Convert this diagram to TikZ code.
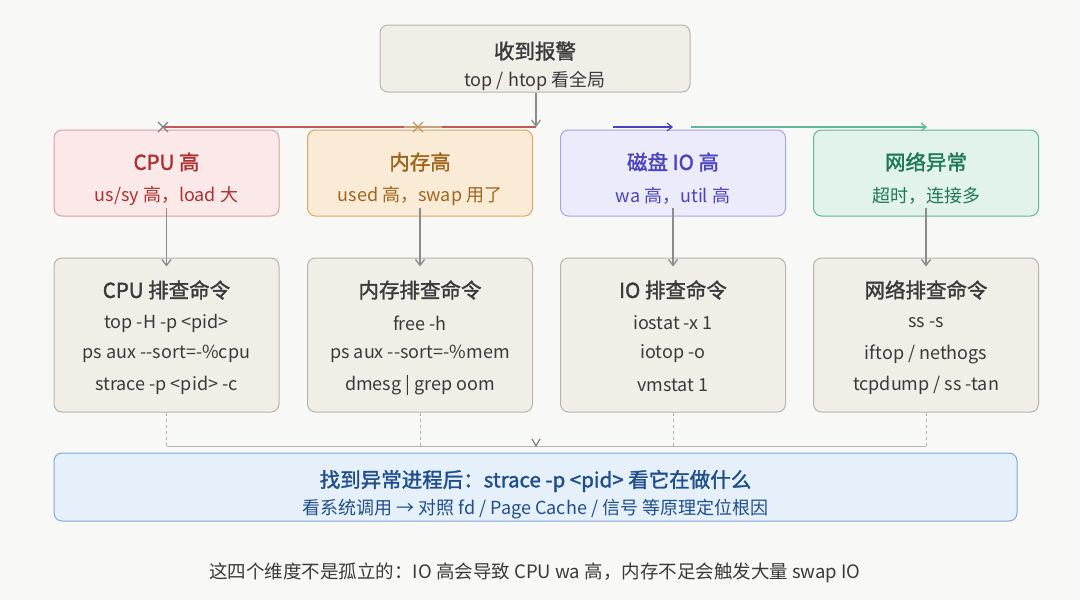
\documentclass[tikz,border=0pt]{standalone}
\usepackage{fontspec}
\setmainfont{Noto Sans CJK SC}[Ligatures=NoCommon]
\newfontfamily\semib{Noto Sans CJK SC}[Ligatures=NoCommon,FakeBold=1.6]
\usetikzlibrary{arrows.meta}
\definecolor{bg}{HTML}{F8F8F6}
\definecolor{gfill}{HTML}{F1EEE8}\definecolor{gline}{HTML}{B8B4AC}\definecolor{gtext}{HTML}{3A3A3A}
\definecolor{rfill}{HTML}{FBE9E9}\definecolor{rline}{HTML}{E0A0A0}\definecolor{rtext}{HTML}{B03030}
\definecolor{ofill}{HTML}{FAEBD7}\definecolor{oline}{HTML}{D9A860}\definecolor{otext}{HTML}{A0651A}
\definecolor{bfill}{HTML}{ECEBFC}\definecolor{bline}{HTML}{A9A4EE}\definecolor{btext}{HTML}{4A43C0}
\definecolor{nfill}{HTML}{E2F3EC}\definecolor{nline}{HTML}{5FB897}\definecolor{ntext}{HTML}{1E7A56}
\definecolor{kfill}{HTML}{E6F0FB}\definecolor{kline}{HTML}{7FA9DD}\definecolor{ktext}{HTML}{1F4E8C}
\tikzset{
 box/.style={draw, rounded corners=8pt, line width=1pt, align=center, inner sep=0pt},
 t/.style={font=\semib\fontsize{20.5}{24}\selectfont},
 s/.style={font=\fontsize{18}{22}\selectfont},
 arr/.style={-{Straight Barb[length=6pt,width=9pt]}, line width=1.3pt, draw=gray!90},
}
\begin{document}
\begin{tikzpicture}[x=1pt,y=-1pt]
\fill[bg] (0,0) rectangle (1080,600);
\useasboundingbox (0,0) rectangle (1080,600);
% top
\node[box, fill=gfill, draw=gline, minimum width=310pt, minimum height=67pt] (top) at (535,58.5) {};
\node[t, text=gtext] (topt) at (535,51) {收到报警};
\node[s, text=gtext] (tops) at (535,81) {top / htop 看全局};
% row1
\foreach \n/\x/\f/\l/\c/\a/\b in {cpu/166.5/rfill/rline/rtext/CPU 高/{us/sy 高，load 大},
 mem/420/ofill/oline/otext/内存高/{used 高，swap 用了},
 io/673/bfill/bline/btext/磁盘 IO 高/{wa 高，util 高},
 net/926/nfill/nline/ntext/网络异常/{超时，连接多}}{
 \node[box, fill=\f, draw=\l, minimum width=225pt, minimum height=86pt] (\n) at (\x,173) {};
 \node[t, text=\c] (\n t) at (\x,162) {\a};
 \node[s, text=\c] (\n s) at (\x,196) {\b};
}
% row2
\foreach \n/\x/\a/\p/\q/\r in {cpuc/166.5/CPU 排查命令/{top -H -p <pid>}/{ps aux -{}-sort=-\%cpu}/{strace -p <pid> -c},
 memc/420/内存排查命令/{free -h}/{ps aux -{}-sort=-\%mem}/{dmesg | grep oom},
 ioc/673/IO 排查命令/{iostat -x 1}/{iotop -o}/{vmstat 1},
 netc/926/网络排查命令/{ss -s}/{iftop / nethogs}/{tcpdump / ss -tan}}{
 \node[box, fill=gfill, draw=gline, minimum width=225pt, minimum height=154pt] (\n) at (\x,335) {};
 \node[t, text=gtext] (\n t) at (\x,290) {\a};
 \node[s, text=gtext] (\n 1) at (\x,323) {\p};
 \node[s, text=gtext] (\n 2) at (\x,354) {\q};
 \node[s, text=gtext] (\n 3) at (\x,385) {\r};
}
% bottom
\node[box, fill=kfill, draw=kline, minimum width=963pt, minimum height=68pt] (key) at (535.5,487) {};
\node[t, text=ktext] (keyt) at (535.5,481) {找到异常进程后：strace -p <pid> 看它在做什么};
\node[font=\fontsize{18}{20}\selectfont, text=ktext] (keys) at (535.5,509) {看系统调用 → 对照 fd / Page Cache / 信号 等原理定位根因};
\node[font=\fontsize{18.5}{20}\selectfont, text=gtext] (foot) at (535,573) {这四个维度不是孤立的：IO 高会导致 CPU wa 高，内存不足会触发大量 swap IO};
% top connectors
\coordinate (hub) at (536,127);
\coordinate (rc) at (163,127);
\coordinate (oc) at (418,127);
\coordinate (b0) at (613,127);\coordinate (b1) at (673,127);
\coordinate (g0) at (691,127);\coordinate (g1) at (927,127);
\draw[arr] (top.south -| hub) -- (hub);
\draw[line width=1.2pt, draw=rtext!80] (hub) -- (rc);
\draw[line width=1.2pt, draw=otext!60] (oc) ++(-14,0) -- ++(38,0);
\draw[line width=1.3pt, gray] (rc) ++(-5,-5) -- ++(10,10) (rc) ++(-5,5) -- ++(10,-10);
\draw[line width=1.3pt, oline!90!black] (oc) ++(-5,-5) -- ++(10,10) (oc) ++(-5,5) -- ++(10,-10);
\draw[-{Straight Barb[length=5pt,width=8pt]}, line width=1.2pt, btext] (b0) -- (b1);
\draw[-{Straight Barb[length=5pt,width=8pt]}, line width=1.2pt, nline] (g0) -- (g1);
% row1 -> row2
\foreach \a/\b in {cpu/cpuc, mem/memc, io/ioc, net/netc}{
 \draw[arr] ([yshift=9pt]\a.south) -- ([yshift=-9pt]\b.north);
}
% row2 -> bottom
\coordinate (j) at (536,446);
\foreach \b in {cpuc, memc, ioc, netc}{
 \draw[dashed, gline, line width=0.8pt] (\b.south) -- (\b.south |- j);
}
\draw[gline, line width=1pt] (cpuc.south |- j) -- (netc.south |- j);
\draw[gray, line width=1.2pt] (j) ++(-4,-7) -- (j) -- ++(4,-7);
\end{tikzpicture}
\end{document}
